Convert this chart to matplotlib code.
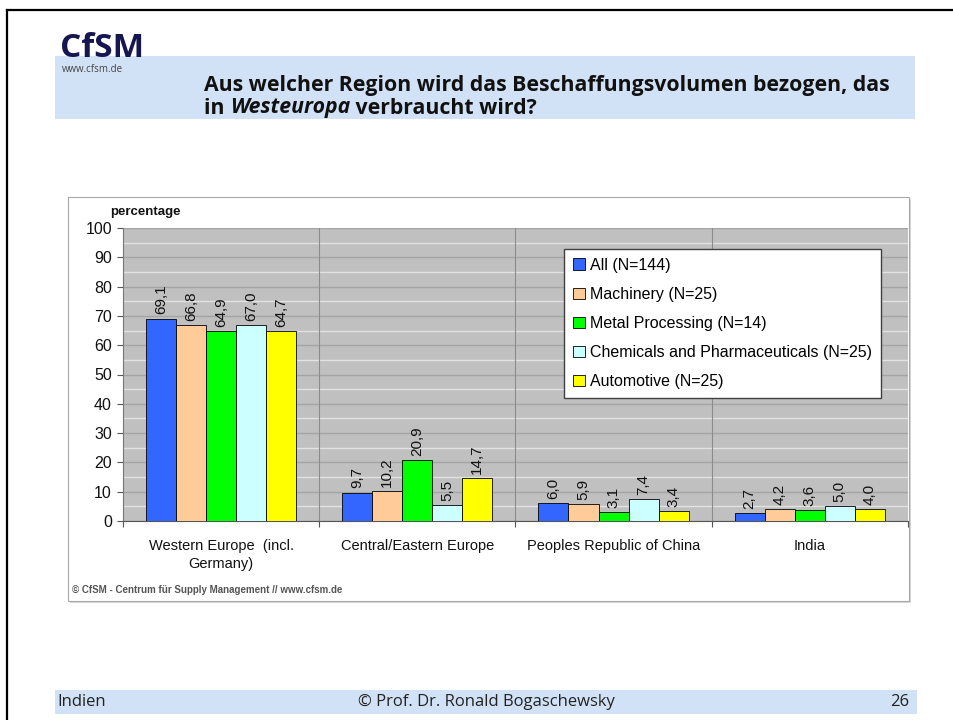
import numpy as np
import matplotlib.pyplot as plt
from matplotlib.patches import Rectangle
from matplotlib.lines import Line2D

regionen = ['Western Europe  (incl.\nGermany)', 'Central/Eastern Europe',
            'Peoples Republic of China', 'India']
serien = ['All (N=144)', 'Machinery (N=25)', 'Metal Processing (N=14)',
          'Chemicals and Pharmaceuticals (N=25)', 'Automotive (N=25)']
werte_all = [69.1, 9.7, 6.0, 2.7]
werte_machinery = [66.8, 10.2, 5.9, 4.2]
werte_metal = [64.9, 20.9, 3.1, 3.6]
werte_chemicals = [67.0, 5.5, 7.4, 5.0]
werte_automotive = [64.7, 14.7, 3.4, 4.0]
farben = ['#3366ff', '#ffcc99', '#00ff00', '#ccffff', '#ffff00']
y_ticks = list(range(0, 101, 10))

W, H = 954, 720


def fx(x):
    return x / W


def fy(y):
    return 1 - y / H


fig = plt.figure(figsize=(W / 100, H / 100), dpi=100)
fig.patch.set_facecolor('white')

# Folienrahmen (links und oben)
fig.add_artist(Line2D([fx(7), fx(7)], [fy(10), 0], color='black', lw=1.6))
fig.add_artist(Line2D([fx(7), 1], [fy(10), fy(10)], color='black', lw=1.6))

# Kopfband + Logo + Titel
band_farbe = '#d2e2f6'
fig.add_artist(Rectangle((fx(55), fy(119)), fx(915) - fx(55), fy(56) - fy(119),
                         transform=fig.transFigure, facecolor=band_farbe, edgecolor='none'))
fig.text(fx(60), fy(57), 'CfSM', fontsize=24, fontweight='bold', color='#161650',
         family='Open Sans', va='baseline', ha='left')
fig.text(fx(62), fy(69), 'www.cfsm.de', fontsize=7, color='#444444',
         family='Open Sans', va='center', ha='left')

titel_font = dict(family='Open Sans', fontsize=15.3, fontweight='bold', color='#111111')
fig.text(fx(204), fy(85), 'Aus welcher Region wird das Beschaffungsvolumen bezogen, das',
         va='center', ha='left', **titel_font)
t1 = fig.text(fx(204), fy(108), 'in ', va='center', ha='left', **titel_font)
t2 = fig.text(0, 0, 'Westeuropa', style='italic', va='bottom', ha='left', **titel_font)
t3 = fig.text(0, 0, ' verbraucht wird?', va='bottom', ha='left', **titel_font)
fig.canvas.draw()
r = fig.canvas.get_renderer()
bb1 = t1.get_window_extent(r).transformed(fig.transFigure.inverted())
t2.set_position((bb1.x1, bb1.y0))
bb2 = t2.get_window_extent(r).transformed(fig.transFigure.inverted())
t3.set_position((bb2.x1, bb1.y0))

# Diagrammrahmen
fig.add_artist(Rectangle((fx(70), fy(603)), fx(911) - fx(70), fy(199) - fy(603),
                         transform=fig.transFigure, facecolor='#d8d8d8', edgecolor='none', zorder=0))
fig.add_artist(Rectangle((fx(68), fy(601)), fx(909) - fx(68), fy(197) - fy(601),
                         transform=fig.transFigure, facecolor='white', edgecolor='#a8a8a8',
                         lw=0.8, zorder=0.5))

ax = fig.add_axes([fx(123), fy(521), fx(908) - fx(123), fy(228) - fy(521)])
ax.set_zorder(2)
ax.set_facecolor('#c0c0c0')

alle_werte = [werte_all, werte_machinery, werte_metal, werte_chemicals, werte_automotive]
x = np.arange(len(regionen))
breite = 0.153
start = 0.117
for j, (werte, farbe, name) in enumerate(zip(alle_werte, farben, serien)):
    pos = x + start + j * breite
    bars = ax.bar(pos, werte, width=breite, align='edge', color=farbe,
                  edgecolor='black', linewidth=0.6, label=name, zorder=3)
    for b, v in zip(bars, werte):
        ax.annotate(f'{v:.1f}'.replace('.', ','),
                    xy=(b.get_x() + b.get_width() / 2, v), xytext=(0, 3),
                    textcoords='offset points', rotation=90, ha='center', va='bottom',
                    fontsize=11, family='Liberation Sans', color='#111111', zorder=4)

ax.set_xlim(0, 4)
ax.set_ylim(0, 100)
ax.set_yticks(y_ticks)
ax.set_yticks(np.arange(5, 100, 10), minor=True)
ax.grid(True, which='major', axis='y', color='#a4a4a4', lw=1, zorder=1)
ax.grid(True, which='minor', axis='y', color='#e2e2e2', lw=1, zorder=1)
ax.set_axisbelow(True)
for xv in [1, 2, 3]:
    ax.axvline(xv, color='#8c8c8c', lw=0.8, zorder=1.5)

ax.set_xticks([0, 1, 2, 3, 4])
ax.set_xticklabels([])
ax.set_xticks(x + 0.5, minor=True)
ax.set_xticklabels(regionen, minor=True, fontsize=10.5, family='Liberation Sans',
                   color='#111111', linespacing=1.35)
ax.tick_params(axis='x', which='minor', length=0, pad=13)
ax.tick_params(axis='x', which='major', length=4, color='#555555', direction='out')
ax.tick_params(axis='y', which='major', length=4, color='#555555', pad=4,
               labelsize=11.5, labelcolor='#111111')
ax.tick_params(axis='y', which='minor', length=0)
for lbl in ax.get_yticklabels():
    lbl.set_family('Liberation Sans')

for s in ['top', 'right']:
    ax.spines[s].set_visible(False)
ax.spines['left'].set_color('#777777')
ax.spines['bottom'].set_color('#555555')
ax.spines['left'].set_linewidth(0.8)
ax.spines['bottom'].set_linewidth(0.8)

fig.text(fx(110), fy(212), 'percentage', fontsize=9.5, fontweight='bold',
         family='Liberation Sans', color='#111111', va='center', ha='left')

leg = ax.legend(loc='upper left', bbox_to_anchor=(0.562, 0.928), fancybox=False,
                framealpha=1, edgecolor='#404040', prop={'family': 'Liberation Sans', 'size': 11.5},
                handlelength=0.75, handleheight=0.75, handletextpad=0.3,
                labelspacing=0.88, borderpad=0.55, borderaxespad=0)
leg.get_frame().set_linewidth(1.0)
leg.set_zorder(5)

fig.text(fx(72), fy(590), '© CfSM - Centrum für Supply Management // www.cfsm.de',
         fontsize=7, fontweight='bold', color='#555555', family='Liberation Sans',
         va='center', ha='left')

# Fußzeile
fig.add_artist(Rectangle((fx(55), fy(714)), fx(917) - fx(55), fy(690) - fy(714),
                         transform=fig.transFigure, facecolor=band_farbe, edgecolor='none'))
fuss = dict(family='Open Sans', fontsize=12, color='#222222', va='center')
fig.text(fx(57), fy(702), 'Indien', ha='left', **fuss)
fig.text(fx(486), fy(702), '© Prof. Dr. Ronald Bogaschewsky', ha='center', **fuss)
fig.text(fx(909), fy(702), '26', ha='right', **fuss)

fig.savefig('out.png', dpi=100, facecolor='white')
